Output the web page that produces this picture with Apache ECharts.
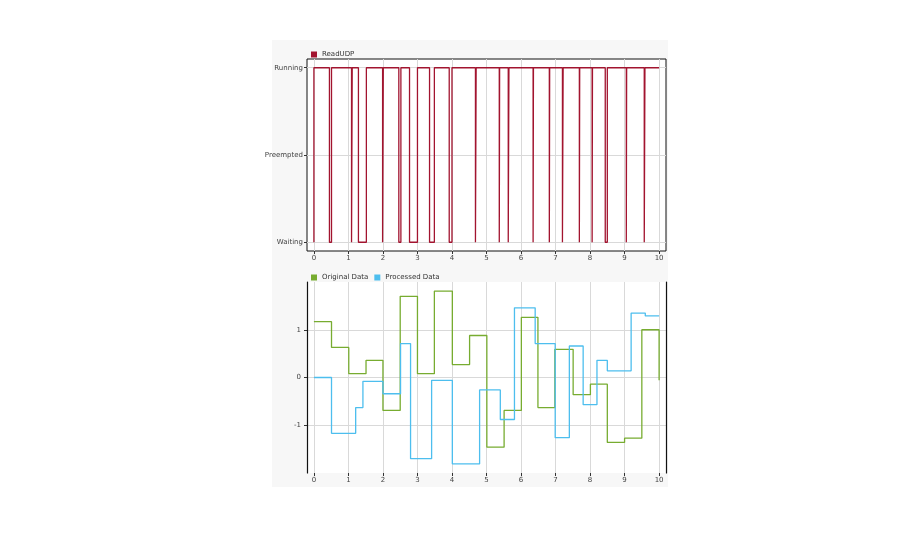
<!DOCTYPE html>
<html><head><meta charset="utf-8">
<script src="https://cdn.jsdelivr.net/npm/echarts@6/dist/echarts.min.js"></script>
<style>html,body{margin:0;padding:0;background:#fff}#c{width:908px;height:546px}</style>
</head><body><div id="c"></div>
<script>
const stateLabels = ['Waiting','Preempted','Running'];
const xTicks = [0,1,2,3,4,5,6,7,8,9,10];
const readUDP = [[0,0],[0,2],[0.45,0],[0.51,2],[1.09,0],[1.11,2],[1.29,0],[1.52,2],[1.99,0],[2.01,2],[2.46,0],[2.52,2],[2.77,0],[3.0,2],[3.35,0],[3.49,2],[3.92,0],[4.0,2],[4.68,0],[4.7,2],[5.37,0],[5.38,2],[5.63,0],[5.65,2],[6.35,0],[6.36,2],[6.82,0],[6.83,2],[7.2,0],[7.22,2],[7.69,0],[7.7,2],[8.06,0],[8.07,2],[8.44,0],[8.5,2],[9.05,0],[9.06,2],[9.57,0],[9.59,2],[10,2]];
const originalData = [[0,1.17],[0.51,0.63],[1.01,0.08],[1.51,0.36],[2.0,-0.69],[2.5,1.70],[3.0,0.08],[3.49,1.81],[4.01,0.27],[4.51,0.88],[5.01,-1.46],[5.51,-0.69],[6.01,1.26],[6.49,-0.63],[6.98,0.59],[7.51,-0.36],[8.01,-0.14],[8.5,-1.36],[9.0,-1.27],[9.5,1.0],[10,-0.06]];
const processedData = [[0,0.0],[0.51,-1.17],[1.21,-0.63],[1.42,-0.08],[2.0,-0.34],[2.51,0.71],[2.8,-1.70],[3.41,-0.06],[4.01,-1.81],[4.8,-0.26],[5.4,-0.88],[5.81,1.46],[6.41,0.71],[6.99,-1.26],[7.4,0.66],[7.8,-0.57],[8.2,0.36],[8.5,0.14],[9.19,1.35],[9.6,1.29],[10,1.29]];
const yTicksBottom = [-1,0,1];

const chart = echarts.init(document.getElementById('c'));
const lbl = {color:'#444',fontSize:7,fontFamily:'DejaVu Sans'};
const xAxisBase = (gi) => ({type:'value',gridIndex:gi,min:-0.2,max:10.2,
  axisLine:{show:false,onZero:false},axisTick:{show:true,customValues:xTicks,length:3,lineStyle:{color:'#333'}},
  axisLabel:Object.assign({customValues:xTicks,margin:4},lbl),
  splitLine:{show:true,lineStyle:{color:'#d9d9d9',width:1}}});
chart.setOption({
  animation:false,
  graphic:[{type:'rect',shape:{x:272,y:40,width:396,height:447},style:{fill:'#f7f7f7'},z:-10}],
  legend:[
    {data:['ReadUDP'],left:306,top:46,itemWidth:6,itemHeight:6,itemGap:6,icon:'rect',textStyle:{fontSize:7,color:'#333',fontFamily:'DejaVu Sans'}},
    {data:['Original Data','Processed Data'],left:306,top:269,itemWidth:6,itemHeight:6,itemGap:6,icon:'rect',textStyle:{fontSize:7,color:'#333',fontFamily:'DejaVu Sans'}}
  ],
  grid:[
    {left:307,right:242,top:59,height:192,show:true,backgroundColor:'#fff',borderColor:'#111',borderWidth:1},
    {left:307,right:242,top:282,height:191,show:true,backgroundColor:'#fff',borderWidth:0}
  ],
  xAxis:[xAxisBase(0),xAxisBase(1)],
  yAxis:[
    {type:'value',gridIndex:0,min:-0.1,max:2.1,
     axisLine:{show:false,onZero:false},axisTick:{show:true,customValues:[0,1,2],length:3,lineStyle:{color:'#333'}},
     axisLabel:Object.assign({customValues:[0,1,2],margin:4,formatter:v=>stateLabels[Math.round(v)]},lbl),
     splitLine:{show:true,lineStyle:{color:'#d9d9d9'}}},
    {type:'value',gridIndex:1,min:-2,max:2,
     axisLine:{show:true,onZero:false,lineStyle:{color:'#111',width:1.2}},axisTick:{show:true,customValues:yTicksBottom,length:3,lineStyle:{color:'#333'}},
     axisLabel:Object.assign({customValues:yTicksBottom,margin:6},lbl),
     splitLine:{show:true,lineStyle:{color:'#d9d9d9'}}},
    {type:'value',gridIndex:1,min:-2,max:2,position:'right',
     axisLine:{show:true,onZero:false,lineStyle:{color:'#111',width:1.2}},axisTick:{show:false},axisLabel:{show:false},splitLine:{show:false}}
  ],
  series:[
    {name:'ReadUDP',type:'line',xAxisIndex:0,yAxisIndex:0,step:'end',data:readUDP,showSymbol:false,color:'#a2142f',lineStyle:{width:1.3,color:'#a2142f'}},
    {name:'Original Data',type:'line',xAxisIndex:1,yAxisIndex:1,step:'end',data:originalData,showSymbol:false,color:'#77ac30',lineStyle:{width:1.3,color:'#77ac30'}},
    {name:'Processed Data',type:'line',xAxisIndex:1,yAxisIndex:1,step:'end',data:processedData,showSymbol:false,color:'#4dbeee',lineStyle:{width:1.3,color:'#4dbeee'}}
  ]
});
</script></body></html>
